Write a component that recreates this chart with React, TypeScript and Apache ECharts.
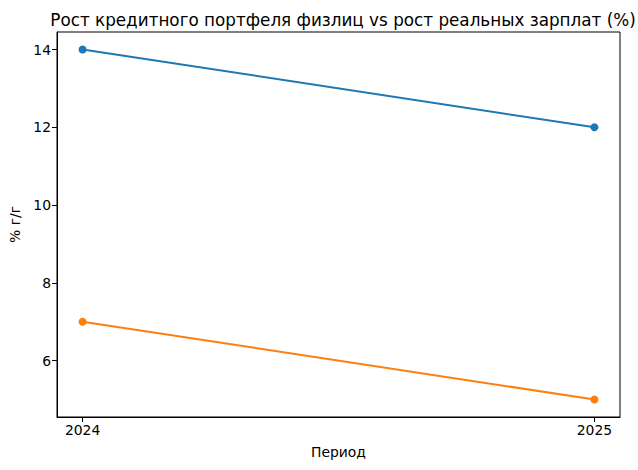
import React, { useEffect, useRef } from "react";
import * as echarts from "echarts";

const periods = [2024, 2025];
const creditGrowth = [14, 12];
const wageGrowth = [7, 5];
const yTicks = [6, 8, 10, 12, 14];

const FONT = "DejaVu Sans";

const App: React.FC = () => {
  const chartRef = useRef<HTMLDivElement | null>(null);

  useEffect(() => {
    document.body.style.margin = "0";
    if (!chartRef.current) return;
    const chart = echarts.init(chartRef.current, null, { renderer: "svg" });

    const option = {
      animation: false,
      backgroundColor: "#fff",
      textStyle: { fontFamily: FONT },
      title: {
        text: "Рост кредитного портфеля физлиц vs рост реальных зарплат (%)",
        left: 338,
        top: 6,
        textAlign: "center",
        textStyle: { fontFamily: FONT, fontSize: 16.8, fontWeight: "normal", color: "#000" },
      },
      grid: {
        left: 57,
        right: 18,
        top: 32,
        bottom: 53,
        show: true,
        borderColor: "#000",
        borderWidth: 1,
      },
      xAxis: {
        type: "value",
        min: 2023.95,
        max: 2025.05,
        name: "Период",
        nameLocation: "middle",
        nameGap: 28,
        nameTextStyle: { fontFamily: FONT, fontSize: 13.9, color: "#000" },
        splitLine: { show: false },
        axisLine: { show: true, lineStyle: { color: "#000", width: 1 } },
        axisTick: { show: true, length: 5, lineStyle: { color: "#000" }, customValues: periods },
        axisLabel: {
          customValues: periods,
          margin: 6,
          fontFamily: FONT,
          fontSize: 13.9,
          color: "#000",
          formatter: (v: number) => String(Math.round(v)),
        },
      },
      yAxis: {
        type: "value",
        min: 4.55,
        max: 14.45,
        name: "% г/г",
        nameLocation: "middle",
        nameGap: 34,
        nameTextStyle: { fontFamily: FONT, fontSize: 13.9, color: "#000" },
        splitLine: { show: false },
        axisLine: { show: true, lineStyle: { color: "#000", width: 1 } },
        axisTick: { show: true, length: 5, lineStyle: { color: "#000" }, customValues: yTicks },
        axisLabel: {
          customValues: yTicks,
          margin: 6,
          fontFamily: FONT,
          fontSize: 13.9,
          color: "#000",
        },
      },
      series: [
        {
          name: "Кредитный портфель физлиц",
          type: "line",
          data: periods.map((p, i) => [p, creditGrowth[i]]),
          symbol: "circle",
          symbolSize: 8,
          color: "#1f77b4",
          lineStyle: { width: 2 },
        },
        {
          name: "Реальные зарплаты",
          type: "line",
          data: periods.map((p, i) => [p, wageGrowth[i]]),
          symbol: "circle",
          symbolSize: 8,
          color: "#ff7f0e",
          lineStyle: { width: 2 },
        },
      ],
    };

    chart.setOption(option);
    return () => {
      chart.dispose();
    };
  }, []);

  return <div ref={chartRef} style={{ width: "638px", height: "470px" }} />;
};

export default App;
